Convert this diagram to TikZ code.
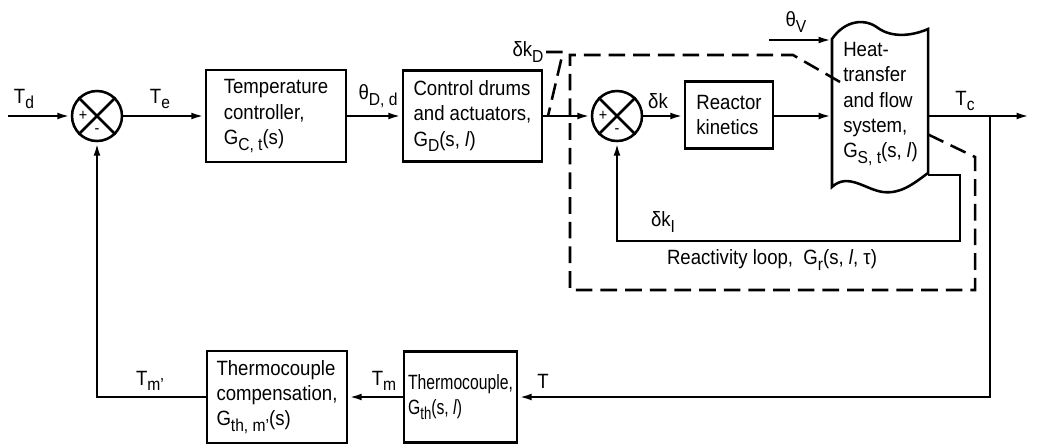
\documentclass[tikz,border=0pt]{standalone}
\usepackage{fontspec}
\setmainfont{Liberation Sans}[FakeStretch=0.9]
\newfontfamily\narrowfont{Liberation Sans}[FakeStretch=0.76]
\usetikzlibrary{arrows.meta}
\newcommand{\sbs}[1]{\raisebox{-0.5ex}{\fontsize{13}{13}\selectfont #1}}
\newcommand{\itl}{\textit{l}}
\begin{document}
\begin{tikzpicture}[x=0.75pt,y=-0.75pt, line width=1.9pt,
  font=\fontsize{15.5}{19}\selectfont,
  blk/.style={draw, rectangle, inner sep=0pt, align=left},
  sumj/.style={draw, circle, minimum size=37.5pt, inner sep=0pt},
  arr/.style={-{Latex[length=10pt,width=5pt]}},
  lbl/.style={inner sep=0pt},
  dsh/.style={dash pattern=on 12.5pt off 6pt},
  sgn/.style={inner sep=0pt, font=\fontsize{12}{12}\selectfont}
]
\useasboundingbox (0,0) rectangle (1037,444);

% summing junctions
\node[sumj] (s1) at (97,116) {};
\node[sumj] (s2) at (617,116) {};
\foreach \s in {s1,s2}{
  \draw (\s.north east) -- (\s.south west);
  \draw (\s.north west) -- (\s.south east);
}
\node[sgn] (p1) at (83,116) {+};
\node[sgn] (m1) at (97,131) {-};
\node[sgn] (p2) at (603,116) {+};
\node[sgn] (m2) at (617,131) {-};

% blocks
\node[blk, minimum width=105pt, minimum height=69pt] (tc) at (276,116)
  {Temperature\\controller,\\G\sbs{C, t}(s)};
\node[blk, minimum width=104.25pt, minimum height=68.25pt] (cd) at (472.5,116)
  {Control drums\\and actuators,\\G\sbs{D}(s, \itl)};
\node[blk, minimum width=66pt, minimum height=50.25pt] (rk) at (729,115)
  {Reactor\\kinetics};
\node[blk, minimum width=84.75pt, minimum height=68.25pt, font=\fontsize{15.5}{19}\narrowfont] (th) at (460.5,397)
  {Thermocouple,\\G\sbs{th}(s, \itl)};
\node[blk, minimum width=105pt, minimum height=69pt] (comp) at (277,397)
  {Thermocouple\\compensation,\\G\sbs{th, m'}(s)};

% heat-transfer and flow system (banner shape)
\draw (832,39) .. controls (845,20) and (865,18) .. (878,28)
  .. controls (892,38) and (912,36) .. (928,29) -- (928,173)
  .. controls (912,185) and (900,194) .. (883,192)
  .. controls (866,190) and (848,172) .. (832,187) -- cycle;
\node[lbl, anchor=west, align=left] (hs) at (842,104)
  {Heat-\\transfer\\and flow\\system,\\G\sbs{S, t}(s, \itl)};
\coordinate (hsW) at (832,116);
\coordinate (hsE) at (928,116);
\coordinate (hsV) at (832,40);
\coordinate (hsB) at (928,175);

% free ends
\coordinate (in) at (8,116);
\coordinate (out) at (1030,116);
\coordinate (br) at (990,116);
\coordinate (thv) at (769,40);
\coordinate (lp) at (960,241);

% main path
\draw[arr] (in) -- (s1);
\draw[arr] (s1) -- (tc);
\draw[arr] (tc) -- (cd);
\draw[arr] (cd) -- (s2);
\draw[arr] (s2) -- (rk.west |- s2);
\draw[arr] (rk.east |- s2) -- (hsW);
\draw[arr] (hsE) -- (out);
\draw[arr] (thv) -- (hsV);

% reactivity loop
\draw[arr] (hsB) -| (lp) -| (s2.south);

% outer feedback
\draw[arr] (br) |- (th.east);
\draw[arr] (th) -- (comp);
\draw[arr] (comp.west) -| (s1.south);

% dashed boundary
\draw[dsh] (840,82) -- (793,55) -- (570,55) -- (570,290) -- (975,290) -- (975,157) -- (923,132);
\draw[dsh] (546,52) -- (563,52) -- (548,116);

% labels
\node[lbl] (lTd) at (24,99) {T\sbs{d}};
\node[lbl] (lTe) at (160,99) {T\sbs{e}};
\node[lbl] (lth) at (378,96) {θ\sbs{D, d}};
\node[lbl] (ldkD) at (528,52) {δk\sbs{D}};
\node[lbl] (lthv) at (796,22) {θ\sbs{V}};
\node[lbl] (ldk) at (658,101) {δk};
\node[lbl] (lTc) at (965,101) {T\sbs{c}};
\node[lbl] (ldkI) at (663,222) {δk\sbs{I}};
\node[lbl] (lrl) at (772,260) {Reactivity loop,\enspace G\sbs{r}(s, \itl, τ)};
\node[lbl] (lT) at (543,381) {T};
\node[lbl] (lTm) at (384,381) {T\sbs{m}};
\node[lbl] (lTmp) at (150,381) {T\sbs{m'}};
\end{tikzpicture}
\end{document}
